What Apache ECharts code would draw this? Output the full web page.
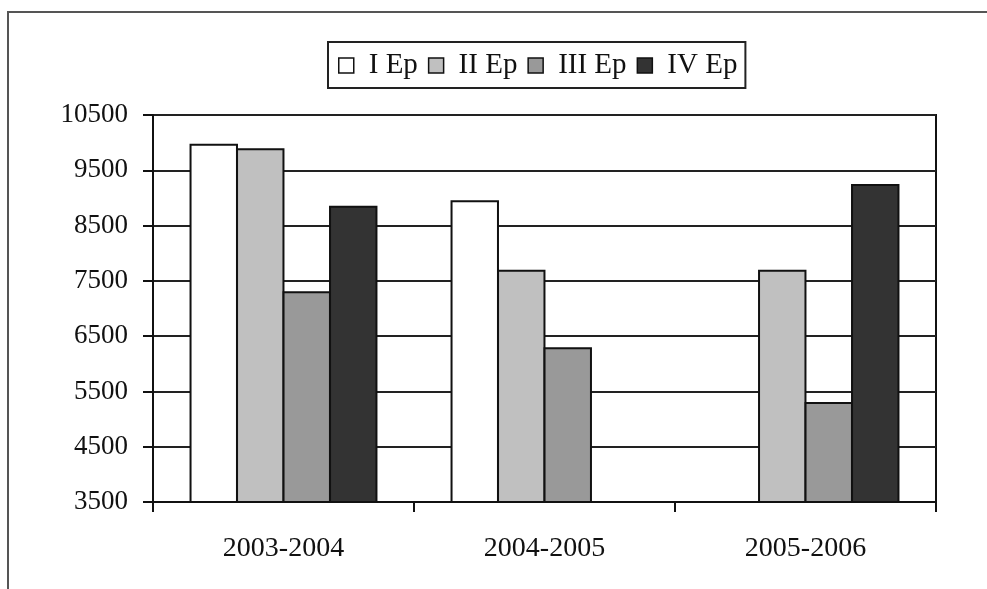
<!DOCTYPE html>
<html>
<head>
<meta charset="utf-8">
<script src="https://cdn.jsdelivr.net/npm/echarts@6/dist/echarts.min.js"></script>
<style>
html,body{margin:0;padding:0;background:#fff;}
#c{width:987px;height:589px;}
</style>
</head>
<body>
<div id="c"></div>
<script>
var categories = ['2003-2004', '2004-2005', '2005-2006'];
var seriesNames = ['I Ep', 'II Ep', 'III Ep', 'IV Ep'];
var epI = [9980, 8960, null];
var epII = [9900, 7700, 7700];
var epIII = [7310, 6300, 5310];
var epIV = [8860, null, 9250];
var yMin = 3500, yMax = 10500, yStep = 1000;

var colors = ['#ffffff', '#c0c0c0', '#999999', '#333333'];
var values = [epI, epII, epIII, epIV];
var font = '"Liberation Serif", "Times New Roman", serif';

var chart = echarts.init(document.getElementById('c'), null, {renderer: 'canvas'});
chart.setOption({
  animation: false,
  backgroundColor: '#ffffff',
  graphic: [{
    type: 'rect',
    shape: {x: 8, y: 12, width: 1100, height: 700},
    style: {fill: 'none', stroke: '#555555', lineWidth: 2},
    silent: true
  }],
  legend: {
    data: seriesNames,
    left: 328,
    top: 42,
    orient: 'horizontal',
    itemWidth: 15,
    itemHeight: 15,
    itemGap: 10,
    padding: [9, 8, 8, 10],
    borderColor: '#222222',
    borderWidth: 2,
    itemStyle: {borderColor: '#111111', borderWidth: 1.5},
    textStyle: {fontFamily: font, fontSize: 29, color: '#111111', padding: [0, 0, 0, 10]},
    icon: 'rect'
  },
  grid: {
    left: 153, right: 51, top: 115, bottom: 87,
    show: true, borderColor: '#111111', borderWidth: 2, backgroundColor: 'transparent'
  },
  xAxis: {
    type: 'category',
    data: categories,
    axisLine: {lineStyle: {color: '#111111', width: 2}},
    axisTick: {show: true, length: 10, lineStyle: {color: '#111111', width: 2}},
    axisLabel: {fontFamily: font, fontSize: 28, color: '#111111', margin: 33},
    splitLine: {show: false}
  },
  yAxis: {
    type: 'value',
    min: yMin, max: yMax, interval: yStep,
    axisLine: {show: true, lineStyle: {color: '#111111', width: 2}},
    axisTick: {show: true, length: 10, lineStyle: {color: '#111111', width: 2}},
    axisLabel: {fontFamily: font, fontSize: 27, color: '#111111', margin: 25,
      formatter: function (v) { return String(v); }},
    splitLine: {show: true, lineStyle: {color: '#222222', width: 2}}
  },
  series: seriesNames.map(function (n, i) {
    return {
      name: n,
      type: 'bar',
      data: values[i],
      barGap: '-4%',
      barCategoryGap: '28%',
      itemStyle: {color: colors[i], borderColor: '#111111', borderWidth: 2}
    };
  })
});
</script>
</body>
</html>
